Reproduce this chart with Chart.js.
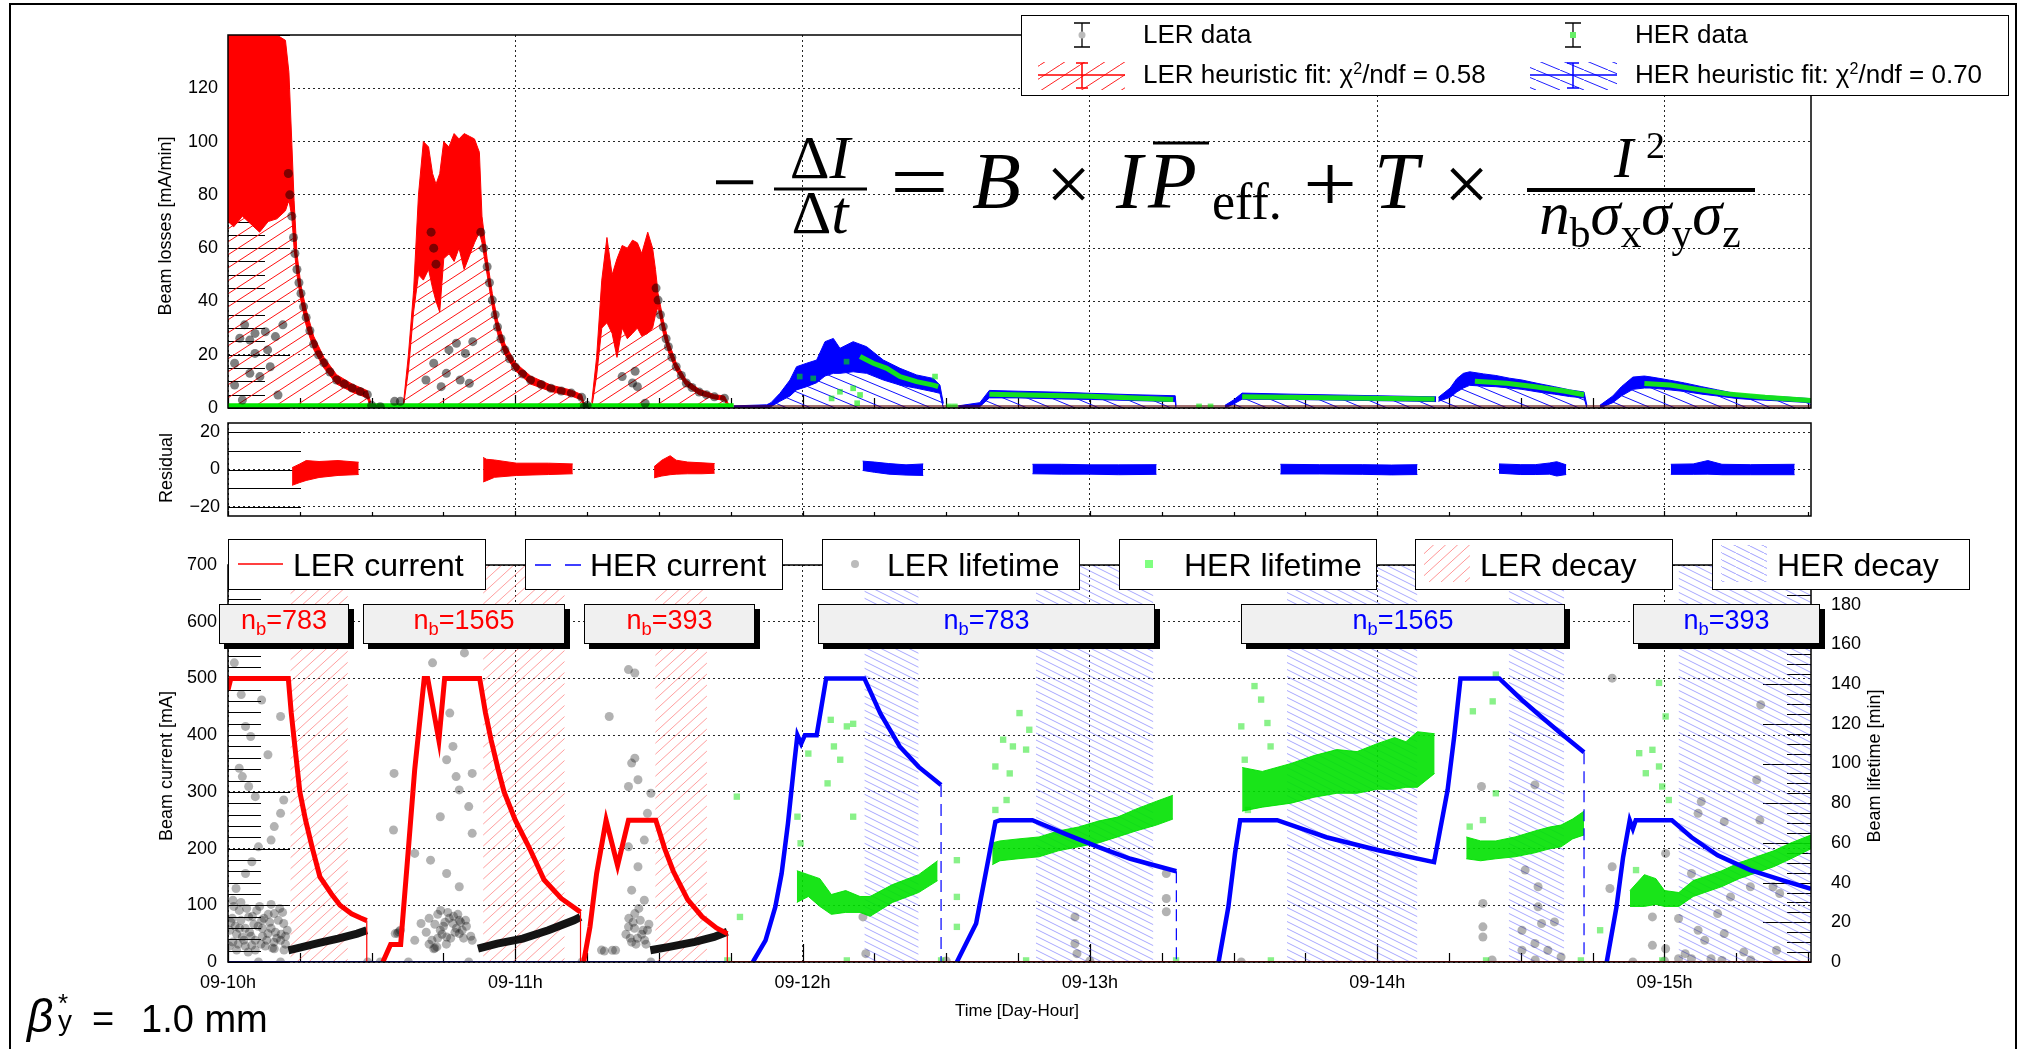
<!DOCTYPE html>
<html>
<head>
<meta charset="utf-8">
<title>Beam losses, residuals and beam currents</title>
<script src="https://cdn.jsdelivr.net/npm/chart.js@4.4.1/dist/chart.umd.min.js"></script>
<style>
  body { margin: 0; width: 2023px; height: 1049px; overflow: hidden; position: relative; background: #fff; font-family: 'Liberation Sans', Arial, sans-serif; }
  canvas { position: absolute; left: 0; }
  .ov { position: absolute; white-space: nowrap; line-height: 1; transform-origin: 0 0; }
  .ov sub { font-size: .68em; vertical-align: -.32em; line-height: 0; }
  .ov sup { font-size: .62em; vertical-align: .55em; line-height: 0; }
  .box { position: absolute; background: #fff; border: 1.5px solid #000; box-sizing: border-box; }
  .nb { position: absolute; background: #f0f0f0; border: 1px solid #000; box-shadow: 5px 5px 0 #000; box-sizing: border-box; }
  #page { position: absolute; left: 9px; top: 3px; width: 2008px; height: 1100px; border: 2px solid #000; box-sizing: border-box; }
</style>
</head>
<body>
<div id="page"></div>
<script>
// ---------- axes ----------
const hours = [10, 11, 12, 13, 14, 15];
const hourLabels = ['09-10h', '09-11h', '09-12h', '09-13h', '09-14h', '09-15h'];
const lossTicks = [0, 20, 40, 60, 80, 100, 120];
const residTicks = [-20, -10, 0, 10, 20];
const currentTicks = [0, 100, 200, 300, 400, 500, 600, 700];
const lifeTicks = [0, 20, 40, 60, 80, 100, 120, 140, 160, 180];

// ---------- top panel: beam losses [mA/min]  rows = [hour, low, high] ----------
const lerFit1 = [[10.00,70,140],[10.02,68,140],[10.05,72,140],[10.08,69,140],[10.11,66,140],[10.14,70,140],[10.17,71,140],[10.20,74,138],[10.212,78,126],[10.222,72,100],[10.23,60,78],[10.24,50,58],[10.254,40,46],[10.272,31,37],[10.298,22,27],[10.334,15,19],[10.378,9,12.5],[10.432,6,9],[10.485,3.8,6.5],[10.497,0,2]];
const lerFit2 = [[10.61,0,1],[10.628,14,20],[10.646,36,44],[10.663,50,80],[10.68,48,100],[10.698,52,98],[10.712,45,88],[10.724,40,84],[10.737,36,88],[10.751,56,100],[10.769,58,98],[10.787,55,103],[10.804,60,101],[10.822,52,103],[10.84,57,102],[10.858,62,101],[10.875,66,96],[10.884,62,72],[10.902,50,56],[10.92,38,43],[10.938,28,33],[10.964,20,24],[11.0,14,17],[11.053,9,12],[11.124,6.2,8.6],[11.195,4.5,6.7],[11.231,3,5],[11.24,0,1.5]];
const lerFit3 = [[11.266,0,2],[11.283,12,19],[11.301,30,48],[11.319,32,64],[11.337,28,50],[11.354,19,56],[11.372,30,61],[11.39,26,60],[11.408,28,63],[11.425,30,62],[11.44,27,58],[11.461,28,66],[11.478,30,60],[11.488,35,52],[11.497,38,43],[11.515,28,33],[11.533,21,25],[11.56,14,17],[11.595,8.3,10.5],[11.64,5,7],[11.693,3.4,5],[11.728,2.9,4.5],[11.742,0,1.5]];
const herFit1 = [[11.76,0,0.8],[11.875,0,1.2],[11.89,0.5,2],[11.921,2.5,5.5],[11.956,4.5,10.5],[11.979,6.8,15.5],[12.014,8,16.8],[12.049,9.5,18],[12.078,12,24.9],[12.107,13,26.1],[12.13,13,22.4],[12.176,13.6,24.9],[12.223,13,23],[12.281,10.5,18],[12.339,8.6,14.9],[12.397,7.4,12.4],[12.455,6.1,11.1],[12.478,5.5,8.6],[12.49,0,1.7]];
const herFit2 = [[12.542,0,0.8],[12.617,0.5,2],[12.65,3.8,6.6],[12.75,3.8,6.3],[12.9,3.4,5.9],[13.006,3.2,5.5],[13.15,2.8,5],[13.297,2.4,4.6],[13.30,0,1]];
const herFit3 = [[13.47,0,1],[13.5,1.5,3],[13.53,3.3,5.6],[13.7,3.2,5.2],[13.9,2.9,4.8],[14.1,2.6,4.4],[14.205,2.4,4.2]];
const herFit4 = [[14.213,2.5,4],[14.254,4,7.5],[14.277,6,11],[14.3,7.5,13],[14.322,8.5,13.6],[14.37,8.2,12.8],[14.413,8,12.2],[14.46,7.5,11.2],[14.504,7,10.5],[14.56,6,9.2],[14.617,5.2,8],[14.67,4.3,6.8],[14.72,3.8,6],[14.73,0,1]];
const herFit5 = [[14.775,0,1],[14.82,2,4.5],[14.85,4.5,8],[14.89,7,11.6],[14.93,7.5,12],[14.956,7.5,11.6],[15.0,7,10.8],[15.07,6.2,9.4],[15.13,5.2,8],[15.185,4.5,6.8],[15.25,3.6,5.4],[15.3,3.2,4.9],[15.41,2.6,4.2],[15.51,2,3.5]];
// measured points [hour, value]
const lerData = [[10.21,88],[10.215,80],[10.222,72],[10.228,64],[10.233,58],[10.24,52],[10.247,47],[10.254,43],[10.263,38],[10.272,34],[10.285,29],[10.298,24],[10.315,20],[10.334,17],[10.355,13.5],[10.378,10.5],[10.405,9],[10.432,7.5],[10.46,6.2],[10.485,5],
  [10.023,16.8],[10.041,26.2],[10.058,31.2],[10.076,25.5],[10.094,28],[10.13,28.6],[10.138,21.8],[10.165,26.8],[10.191,31.2],[10.023,8.6],[10.076,13],[10.111,11.8],[10.147,15.5],[10.174,4.9],[10.094,20.5],[10.05,3],
  [10.5,1],[10.53,0.5],[10.58,2.5],[10.6,2.5],
  [10.689,10.5],[10.742,8],[10.769,21.8],[10.795,24.3],[10.76,13],[10.808,10.5],[10.826,20.5],[10.852,24.9],[10.84,9.3],[10.716,16.8],[10.707,66],[10.716,60],[10.724,54],
  [10.88,66],[10.89,60],[10.902,53],[10.91,47],[10.92,40.5],[10.93,35],[10.938,30.4],[10.95,26],[10.964,21.8],[10.98,18.5],[11.0,15.4],[11.025,12.8],[11.053,10.5],[11.09,8.8],[11.124,7.4],[11.16,6.4],[11.195,5.6],[11.231,4],[11.24,0.5],[11.25,1],
  [11.408,9.4],[11.425,8],[11.417,13.8],[11.452,1.8],[11.372,11.8],
  [11.49,45],[11.497,40.5],[11.505,35],[11.515,30.5],[11.525,26],[11.533,23],[11.545,19],[11.56,15.5],[11.578,12.2],[11.595,9.4],[11.615,7.7],[11.64,6],[11.665,5],[11.693,4.2],[11.728,3.7]];
const herZero = [[10.0,0.7],[11.76,0.7]];
const lerZero = [[11.76,0.4],[15.51,0.4]];
const herData1 = [[12.2,19.3],[12.246,16.8],[12.293,14.9],[12.339,11.8],[12.397,9.9],[12.455,8.6],[12.472,8]];
const herData2 = [[12.65,5.2],[13.0,4.4],[13.29,3.2]];
const herData3 = [[13.53,4.2],[13.9,3.8],[14.2,3.4]];
const herData4 = [[14.34,10],[14.45,9.3],[14.55,8],[14.65,6.4],[14.72,5]];
const herData5 = [[14.93,9.2],[15.02,8.6],[15.12,6.9],[15.22,5.3],[15.35,4],[15.51,2.8]];
const herDataScatter = [[11.99,11.8],[12.037,11.1],[12.153,17.4],[12.101,3.6],[12.13,6.1],[12.176,7.4],[12.2,4.9],[12.19,1.8],[12.461,11.8],[12.51,0.6],[12.53,0.6],[13.38,0.6],[13.42,0.6]];

// ---------- residual panel  rows = [hour, low, high] ----------
const resLer1 = [[10.223,-8.5,1],[10.25,-7,3],[10.272,-5.9,4.8],[10.317,-4.3,4.3],[10.383,-3.2,4.8],[10.455,-2.7,3.9]];
const resLer2 = [[10.888,-6.7,6.5],[10.9,-6,5.5],[10.928,-4.2,5.1],[11.005,-3.2,3.4],[11.116,-2.7,3.4],[11.2,-2.3,3]];
const resLer3 = [[11.483,-4.5,1.5],[11.51,-3.5,5],[11.539,-2.8,7.4],[11.56,-2.5,5],[11.6,-2.3,4],[11.65,-2.3,3.6],[11.694,-2,3.2]];
const resHer1 = [[12.209,-0.5,4.5],[12.25,-1.5,4],[12.3,-2.5,3.2],[12.36,-3,2.5],[12.42,-3.2,3]];
const resHer2 = [[12.8,-2.3,2.8],[12.9,-2.5,2.8],[13.0,-2.5,2.5],[13.1,-2.8,2.5],[13.232,-2.6,2.6]];
const resHer3 = [[13.663,-2.4,2.8],[13.8,-2.4,2.6],[13.95,-2.6,2.6],[14.05,-2.9,2.4],[14.14,-2.7,2.6]];
const resHer4 = [[14.424,-2,3],[14.5,-2.7,2.6],[14.55,-2.7,2.6],[14.6,-2.5,3.5],[14.625,-3.5,4.2],[14.658,-2.7,2.5]];
const resHer5 = [[15.022,-2.6,2.8],[15.1,-2.6,3],[15.151,-2.5,4.8],[15.2,-2.8,2.8],[15.3,-2.8,2.6],[15.453,-2.8,2.8]];

// ---------- bottom panel: currents [mA] and lifetimes [min] ----------
const lerDecayWin = [[10.217,10.417],[10.888,11.172],[11.487,11.667]];
const herDecayWin = [[12.215,12.404],[12.812,13.221],[13.686,14.14],[14.458,14.651],[15.049,15.51]];
const lerCur1 = [[10.0,480],[10.01,500],[10.21,500],[10.22,440],[10.235,370],[10.25,300],[10.27,250],[10.294,200],[10.32,150],[10.36,120],[10.39,100],[10.43,85],[10.46,78],[10.483,73]];
const lerCur2 = [[10.539,0],[10.566,31],[10.601,31],[10.628,200],[10.65,340],[10.683,500],[10.695,500],[10.734,391],[10.754,500],[10.876,500],[10.896,440],[10.916,391],[10.94,340],[10.961,300],[11.0,250],[11.05,200],[11.1,145],[11.16,112],[11.227,88]];
const lerCur3 = [[11.238,0],[11.26,62],[11.283,156],[11.316,250],[11.356,170],[11.394,250],[11.489,250],[11.52,200],[11.55,160],[11.6,110],[11.65,80],[11.7,60],[11.738,50]];
const herCur1 = [[11.827,0],[11.871,38],[11.905,97],[11.927,156],[11.949,244],[11.971,350],[11.982,400],[11.995,385],[12.008,400],[12.049,400],[12.082,500],[12.215,500],[12.271,438],[12.338,380],[12.404,344],[12.482,312]];
const herCur2 = [[12.537,0],[12.604,68],[12.648,185],[12.671,247],[12.687,250],[12.8,250],[12.914,226],[13.028,203],[13.141,182],[13.301,160]];
const herCur3 = [[13.448,0],[13.482,97],[13.505,191],[13.523,250],[13.652,250],[13.823,220],[14.004,197],[14.198,176],[14.245,303],[14.268,397],[14.29,500],[14.425,500],[14.504,462],[14.572,432],[14.64,403],[14.72,370]];
const herCur5 = [[14.799,0],[14.833,97],[14.856,185],[14.879,250],[14.89,235],[14.9,250],[15.026,250],[15.094,220],[15.185,188],[15.299,162],[15.412,144],[15.51,129]];
const herCurZero = [[10.0,0],[11.827,0]];
const lerCurZero = [[11.738,0],[15.51,0]];
const lerLife1 = [[10.21,5.9],[10.25,7.2],[10.317,9.6],[10.383,11.8],[10.45,14.3],[10.483,16]];
const lerLife2 = [[10.87,6.7],[10.937,9.3],[11.026,11.8],[11.115,16],[11.204,21],[11.227,22.7]];
const lerLife3 = [[11.47,5.9],[11.536,7.6],[11.625,10.1],[11.692,12.6],[11.738,15.2]];
const lerLifeScatter = [[10.022,150.7],[10.046,134.7],[10.061,118.7],[10.079,113.6],[10.039,97.6],[10.05,93.4],[10.072,88.4],[10.095,83.3],[10.139,104.4],[10.117,132],[10.183,123.7],[10.194,81.6],[10.183,74.9],[10.161,68.2],[10.15,61.4],[10.106,58],[10.083,50.5],[10.061,44.6],[10.028,37],[10.017,31.1],[10.039,26],[10.072,22.7],[10.117,21],[10.161,24.4],[10.194,19.4],[10.006,16],[10.05,12.6],[10.095,10.9],[10.139,14.3],[10.183,10.9],[10.206,16],[10.017,10.1],[10.083,8.4],[10.161,6.7],[10.106,0],[10.183,0],
  [10.01,20],[10.03,14],[10.06,17],[10.09,19],[10.12,13],[10.15,17],[10.17,12],[10.2,9],[10.03,6],[10.07,5],[10.13,8],[10.19,25],[10.11,28],[10.045,30],[10.15,29],
  [10.005,8],[10.015,22],[10.025,18],[10.035,9],[10.045,21],[10.055,11],[10.065,27],[10.075,15],[10.085,23],[10.095,6],[10.105,18],[10.115,9],[10.125,22],[10.135,11],[10.145,20],[10.155,7],[10.165,15],[10.175,21],[10.185,14],[10.195,6],[10.02,28],[10.06,8],[10.1,26],[10.14,24],[10.18,27],[10.04,17],[10.08,13],[10.12,17],[10.16,10],[10.2,13],
  [10.486,0],[10.53,0],[10.578,95],[10.576,66.5],[10.582,14.3],[10.594,15.2],[10.712,150.7],[10.823,155.7],[10.772,125.4],[10.783,108.6],[10.794,93.4],[10.761,101.9],[10.805,86.7],[10.85,95],[10.838,78.3],[10.739,73.2],[10.65,54.7],[10.705,51.3],[10.761,44.6],[10.805,37.9],[10.85,64.8],[10.672,19.4],[10.739,16],[10.783,19.4],[10.827,21],[10.716,6.7],[10.727,7.6],[10.761,12.6],[10.805,14.3],[10.85,10.9],[10.65,10.9],[10.838,0],[10.628,0],
  [10.75,18],[10.77,22],[10.79,15],[10.81,20],[10.73,12],[10.76,9],[10.8,24],[10.74,26],[10.82,12],
  [10.69,15],[10.7,22],[10.71,11],[10.72,19],[10.73,24],[10.745,14],[10.755,20],[10.765,25],[10.775,12],[10.785,23],[10.795,17],[10.805,21],[10.815,16],[10.83,18],[10.845,13],[10.7,9],[10.72,7],[10.59,14.5],[10.6,16],
  [11.232,0],[11.327,123.7],[11.394,147.3],[11.416,145.6],[11.405,100.2],[11.416,102.7],[11.394,88.4],[11.427,91.8],[11.472,85],[11.46,74.9],[11.449,61.4],[11.394,58],[11.427,48],[11.405,36.2],[11.449,31.1],[11.416,24.4],[11.394,17.7],[11.46,16],[11.338,5.9],[11.349,5.9],[11.472,0],
  [11.4,12],[11.42,9],[11.44,14],[11.41,20],[11.43,27],[11.45,11],
  [11.385,14],[11.395,22],[11.405,10],[11.415,17],[11.425,12],[11.435,21],[11.445,16],[11.455,9],[11.465,19],[11.3,6],[11.31,5.5],
  [12.21,22.7],[12.22,4.2],[12.948,9.3],[12.955,4.2],[12.948,22.7],[13.266,44.6],[13.266,32],[13.266,25.3],[13.527,0],[14.363,88.4],[14.549,89.2],[14.515,46.3],[14.368,29.5],[14.56,37.9],[14.56,27.8],[14.572,19.4],[14.617,20.2],[14.368,17.7],[14.368,12.6],[14.504,16],[14.504,5.9],[14.549,9.3],[14.594,5.9],[14.64,2.5],[14.818,143],[14.818,48],[14.81,37],[15.335,129.6],[15.321,91.8],[15.332,71.5],[15.004,54.7],[15.128,80.8],[15.117,74.9],[15.208,70.7],[15.185,24.4],[15.094,44.6],[15.23,32.8],[15.299,37.9],[15.378,37.9],[15.401,34.5],[14.958,22.7],[15.049,21.9],[15.117,16],[15.14,10.9],[15.208,14.3],[14.958,8.4],[15.004,6.7],[15.072,4.2],[15.162,1.7],[15.276,5],[15.39,5.9],[14.89,0],[15.049,1.7],[15.094,1.7],
  [12.5,0.5],[13.0,0.5],[14.4,1],[14.55,1],[15.0,0.5],[15.2,0.8],[15.3,1]];
const herLife1 = [[11.98,30,46],[12.02,33,44],[12.06,28,42],[12.1,24,34],[12.15,25,36],[12.2,25,33],[12.235,23,33],[12.313,30,39],[12.404,35,44],[12.47,41,51]];
const herLife2 = [[12.66,49,60],[12.687,51,61],[12.75,52,62],[12.823,53,63],[12.89,56,66],[12.96,58,68],[13.03,60,71],[13.096,63,73],[13.16,66,77],[13.232,69,81],[13.289,72,84]];
const herLife3 = [[13.53,76,98],[13.6,78,96],[13.7,80,100],[13.78,83,104],[13.86,85,107],[13.93,85,106],[14.0,87,110],[14.06,87,113],[14.1,88,111],[14.14,88,116],[14.2,95,115]];
const herLife4 = [[14.31,52,63],[14.36,51,61],[14.413,52,61],[14.48,53,63],[14.549,55,66],[14.6,57,68],[14.64,58,69],[14.68,62,72],[14.72,64,76]];
const herLife5 = [[14.88,28,36],[14.93,28,44],[14.97,29,42],[15.0,28,36],[15.05,28,35],[15.1,33,41],[15.14,35,43],[15.2,38,46],[15.26,42,50],[15.32,45,53],[15.38,48,56],[15.44,52,60],[15.51,57,64]];
const herLifeScatter = [[11.771,83.3],[11.782,22.7],[11.738,0.8],[12.02,105],[12.109,108.6],[12.131,101.9],[12.087,90],[11.982,73.2],[12.176,73.2],[11.993,59.8],[12.537,51.3],[12.537,32.8],[12.537,17.7],[12.154,0.8],[12.176,120],[12.098,122],[12.154,118.7],[12.482,0.8],[12.671,98.5],[12.671,76.6],[12.698,112],[12.732,108.6],[12.755,125.4],[12.721,95],[12.71,81.6],[12.778,107],[12.789,117],[13.3,0.8],[12.778,0.8],[13.573,139],[13.618,120.4],[13.527,118.7],[13.596,132.2],[13.629,108.6],[13.55,76.6],[13.539,101.9],[13.63,0.8],[14.322,68.2],[14.368,71.5],[14.333,126.3],[14.413,144.8],[14.402,131.3],[14.413,85],[14.379,0.8],[14.709,0.8],[14.958,106.9],[14.981,98.5],[14.935,95.1],[14.992,88.4],[15.004,123.7],[14.981,140.6],[14.901,46.3],[14.776,16],[14.912,105.2],[15.015,81.6],[14.992,0.8]];

// ---------- helpers ----------
Chart.defaults.font.family = "'Liberation Sans', Arial, sans-serif";
Chart.defaults.color = '#000';

function hatch(color, w, h, dir) {
  const c = document.createElement('canvas');
  c.width = w; c.height = h;
  const g = c.getContext('2d');
  g.strokeStyle = color; g.lineWidth = 1;
  g.beginPath();
  [[0, 0], [-w, 0], [w, 0], [0, -h], [0, h]].forEach(([ox, oy]) => {
    if (dir > 0) { g.moveTo(ox, oy + h); g.lineTo(ox + w, oy); }
    else { g.moveTo(ox, oy); g.lineTo(ox + w, oy + h); }
  });
  g.stroke();
  return g.createPattern(c, 'repeat');
}

const P = rows => rows.map(r => ({x: r[0], y: r[1]}));
const L = (rows, axis, color, width, extra) => Object.assign({data: P(rows), yAxisID: axis, borderColor: color, borderWidth: width, pointRadius: 0, fill: false}, extra || {});
const D = (rows, axis, color, r, style) => ({data: P(rows), yAxisID: axis, showLine: false, pointRadius: r, pointStyle: style || 'circle', pointBackgroundColor: color, pointBorderWidth: 0, borderColor: color});
const B = (rows, axis, line, fillCol, under) => [
  {data: rows.map(r => ({x: r[0], y: r[1]})), yAxisID: axis, borderColor: line, borderWidth: 1, pointRadius: 0, fill: under ? 'origin' : false, backgroundColor: under || 'transparent'},
  {data: rows.map(r => ({x: r[0], y: r[2]})), yAxisID: axis, borderColor: line, borderWidth: 1, pointRadius: 0, fill: '-1', backgroundColor: fillCol}
];
const drop = rows => { const e = rows[rows.length - 1]; return [[e[0], e[1]], [e[0], 0]]; };
const win = (w, pat) => ({data: [{x: w[0], y: 700}, {x: w[1], y: 700}], yAxisID: 'y', borderWidth: 0, borderColor: 'transparent', pointRadius: 0, fill: 'origin', backgroundColor: pat});
// first pushed = painted first (behind)
const paint = sets => { sets.forEach((d, i) => { d.order = sets.length - i; }); return sets; };

// ticks drawn inside the frame + frame, like the original
const rootFrame = {
  id: 'rootFrame',
  beforeDatasetsDraw(chart, args, o) {
    const {ctx, chartArea: a, scales} = chart;
    ctx.save();
    ctx.strokeStyle = '#000'; ctx.lineWidth = 1.2;
    ctx.beginPath();
    const xs = scales.x;
    for (let k = 0; 10 + k * 0.25 <= xs.max; k++) {
      const t = 10 + k * 0.25, px = Math.round(xs.getPixelForValue(t)) + 0.5;
      const len = k % 4 === 0 ? o.xMajor : o.xMinor;
      ctx.moveTo(px, a.bottom); ctx.lineTo(px, a.bottom - len);
    }
    (o.yAxes || []).forEach(ax => {
      const s = scales[ax.id];
      for (let v = Math.ceil(s.min / ax.step) * ax.step; v <= s.max + 1e-9; v += ax.step) {
        const py = Math.round(s.getPixelForValue(v)) + 0.5;
        const len = Math.abs(v % ax.major) < 1e-6 ? ax.majLen : ax.minLen;
        if (ax.side === 'left') { ctx.moveTo(a.left, py); ctx.lineTo(a.left + len, py); }
        else { ctx.moveTo(a.right, py); ctx.lineTo(a.right - len, py); }
      }
    });
    ctx.stroke();
    ctx.restore();
  },
  afterDatasetsDraw(chart) {
    const {ctx, chartArea: a} = chart;
    ctx.save();
    ctx.strokeStyle = '#000'; ctx.lineWidth = 1.5;
    ctx.strokeRect(a.left, a.top, a.right - a.left, a.bottom - a.top);
    ctx.restore();
  }
};

function xScale(show) {
  return {
    type: 'linear', min: 10, max: 15.51,
    afterBuildTicks: s => { s.ticks = hours.map(v => ({value: v})); },
    ticks: {display: show, padding: 10, autoSkip: false, maxRotation: 0, font: {size: 18}, callback: (v, i) => hourLabels[i]},
    grid: {color: 'rgba(0,0,0,0.85)', lineWidth: 1, drawTicks: false},
    border: {display: false, dash: [2, 3]},
    afterFit: s => { s.height = show ? 40 : 0; s.paddingLeft = 0; s.paddingRight = 0; }
  };
}
function yScale(min, max, list, pad, pos, grid) {
  return {
    type: 'linear', position: pos || 'left', min, max,
    afterBuildTicks: s => { s.ticks = list.map(v => ({value: v})); },
    ticks: {padding: pad, font: {size: 18}, callback: v => String(v).replace('-', '\u2212')},
    grid: {display: grid !== false, color: 'rgba(0,0,0,0.85)', lineWidth: 1, drawTicks: false},
    border: {display: false, dash: [2, 3]},
    afterFit: s => { s.width = 60; s.paddingTop = 0; s.paddingBottom = 0; }
  };
}
function mk(top, height) {
  const c = document.createElement('canvas');
  c.width = 2023; c.height = height; c.style.top = top + 'px';
  document.body.appendChild(c);
  return c;
}
const base = (padding, scales, frame) => ({
  animation: false, responsive: false, devicePixelRatio: 1,
  layout: {padding},
  plugins: {legend: {display: false}, tooltip: {enabled: false}, rootFrame: frame},
  scales
});

// ---------- top chart ----------
const redHatch = hatch('#ff1010', 20, 13, 1);
const blueHatch = hatch('#1010ff', 24, 10, -1);
const topSets = paint([
  ...B(lerFit1, 'y', '#ff0000', '#ff0000', redHatch),
  ...B(lerFit2, 'y', '#ff0000', '#ff0000', redHatch),
  ...B(lerFit3, 'y', '#ff0000', '#ff0000', redHatch),
  ...[herFit1, herFit2, herFit3, herFit4, herFit5].flatMap(r => B(r, 'y', '#0000ff', '#0000ff', blueHatch)),
  L(herZero, 'y', '#00e600', 6),
  L(lerZero, 'y', 'rgba(90,0,0,0.55)', 4),
  D(lerData, 'y', 'rgba(0,0,0,0.5)', 4.5),
  ...[herData1, herData2, herData3, herData4, herData5].map(r => L(r, 'y', 'rgba(20,235,20,0.95)', 5)),
  D(herDataScatter, 'y', 'rgba(0,235,0,0.6)', 4, 'rect')
]);
new Chart(mk(0, 430), {
  type: 'line',
  data: {datasets: topSets},
  options: base({left: 168, right: 212, top: 35, bottom: 22},
    {x: xScale(false), y: yScale(0, 140, lossTicks, 10)},
    {xMajor: 13, xMinor: 10, yAxes: [{id: 'y', step: 5, major: 20, minLen: 37, majLen: 62, side: 'left'}]}),
  plugins: [rootFrame]
});

// ---------- residual chart ----------
const resSets = paint([
  ...[resLer1, resLer2, resLer3].flatMap(r => B(r, 'y', '#ff0000', '#ff0000')),
  ...[resHer1, resHer2, resHer3, resHer4, resHer5].flatMap(r => B(r, 'y', '#0000ff', '#0000ff'))
]);
new Chart(mk(410, 130), {
  type: 'line',
  data: {datasets: resSets},
  options: base({left: 168, right: 212, top: 13, bottom: 24},
    {x: xScale(false), y: yScale(-25, 25, residTicks, 8)},
    {xMajor: 5, xMinor: 4, yAxes: [{id: 'y', step: 10, major: 10, minLen: 73, majLen: 73, side: 'left'}]}),
  plugins: [rootFrame]
});

// ---------- bottom chart ----------
const redLight = hatch('rgba(255,80,80,0.55)', 12, 11, 1);
const blueLight = hatch('rgba(80,80,255,0.5)', 14, 7, -1);
const botSets = paint([
  ...lerDecayWin.map(w => win(w, redLight)),
  ...herDecayWin.map(w => win(w, blueLight)),
  D(lerLifeScatter, 'y2', 'rgba(0,0,0,0.3)', 4.5),
  D(herLifeScatter, 'y2', 'rgba(40,230,40,0.55)', 4.5, 'rect'),
  ...[herLife1, herLife2, herLife3, herLife4, herLife5].flatMap(r => B(r, 'y2', 'rgba(0,225,0,0.9)', 'rgba(0,225,0,0.9)')),
  ...[lerLife1, lerLife2, lerLife3].map(r => L(r, 'y2', 'rgba(0,0,0,0.92)', 8)),
  L(herCurZero, 'y', '#0000ff', 2),
  L(lerCurZero, 'y', '#ff0000', 2),
  ...[lerCur1, lerCur2, lerCur3].map(r => L(r, 'y', '#ff0000', 5)),
  ...[lerCur1, lerCur2, lerCur3].map(r => L(drop(r), 'y', '#ff0000', 1.2)),
  ...[herCur1, herCur2, herCur3, herCur5].map(r => L(r, 'y', '#0000ff', 4.5)),
  ...[herCur1, herCur2, herCur3].map(r => L(drop(r), 'y', '#0000ff', 1.2, {borderDash: [12, 7]}))
]);
new Chart(mk(530, 519), {
  type: 'line',
  data: {datasets: botSets},
  options: base({left: 168, right: 152, top: 35, bottom: 47},
    {x: xScale(true), y: yScale(0, 700, currentTicks, 11), y2: yScale(0, 200, lifeTicks, 20, 'right', false)},
    {xMajor: 18, xMinor: 9, yAxes: [
      {id: 'y', step: 20, major: 100, minLen: 33, majLen: 62, side: 'left'},
      {id: 'y2', step: 5, major: 20, minLen: 24, majLen: 48, side: 'right'}]}),
  plugins: [rootFrame]
});

// ---------- overlays: boxes, symbols, text ----------
function box(cls, x, y, w, h) {
  const d = document.createElement('div');
  d.className = cls;
  Object.assign(d.style, {left: x + 'px', top: y + 'px', width: w + 'px', height: h + 'px'});
  document.body.appendChild(d);
}
function put(html, x, baseLine, fs, o) {
  o = o || {};
  const d = document.createElement('div');
  d.className = 'ov';
  d.innerHTML = html;
  const serif = !!o.serif;
  d.style.fontFamily = serif ? "'Liberation Serif', 'Times New Roman', serif" : "'Liberation Sans', Arial, sans-serif";
  d.style.fontSize = fs + 'px';
  d.style.left = x + 'px';
  d.style.top = (baseLine - (serif ? 0.8375 : 0.8465) * fs) + 'px';
  d.style.color = o.color || '#000';
  if (o.italic) d.style.fontStyle = 'italic';
  const tf = [];
  if (o.align === 'center') tf.push('translateX(-50%)');
  if (o.sx) tf.push('scaleX(' + o.sx + ')');
  if (tf.length) d.style.transform = tf.join(' ');
  document.body.appendChild(d);
}
function vtitle(text, cx, cy, fs) {
  const d = document.createElement('div');
  d.className = 'ov';
  d.textContent = text;
  Object.assign(d.style, {left: cx + 'px', top: cy + 'px', fontSize: fs + 'px', transformOrigin: '50% 50%', transform: 'translate(-50%,-50%) rotate(-90deg)'});
  document.body.appendChild(d);
}

// top legend
box('box', 1021, 15, 988, 81);
// bottom legend boxes
const legendNames = ['LER current', 'HER current', 'LER lifetime', 'HER lifetime', 'LER decay', 'HER decay'];
const legendX = [228, 525, 822, 1119, 1415, 1712];
legendX.forEach(x => box('box', x, 539, 258, 51));
// bunch-number boxes
const nbBoxes = [[219, 349, '783', 'red'], [363, 565, '1565', 'red'], [584, 755, '393', 'red'], [818, 1155, '783', 'blue'], [1241, 1565, '1565', 'blue'], [1633, 1820, '393', 'blue']];
nbBoxes.forEach(b => box('nb', b[0], 604, b[1] - b[0], 40));

const svg = [
  '<defs>',
  '<pattern id="hr" width="20" height="13" patternUnits="userSpaceOnUse"><path d="M0 13L20 0" stroke="#ff2020" stroke-width="1"/></pattern>',
  '<pattern id="hb" width="24" height="10" patternUnits="userSpaceOnUse"><path d="M0 0L24 10" stroke="#2020ff" stroke-width="1"/></pattern>',
  '<pattern id="lr" width="12" height="11" patternUnits="userSpaceOnUse"><path d="M0 11L12 0" stroke="rgba(255,80,80,0.6)" stroke-width="1"/></pattern>',
  '<pattern id="lb" width="14" height="7" patternUnits="userSpaceOnUse"><path d="M0 0L14 7" stroke="rgba(80,80,255,0.55)" stroke-width="1"/></pattern>',
  '</defs>',
  // LER data / HER data error bars
  '<g stroke="#000" stroke-width="1.3"><path d="M1082 23V47M1074 23H1090M1074 47H1090"/><path d="M1573 23V47M1565 23H1581M1565 47H1581"/></g>',
  '<circle cx="1082" cy="35" r="3.5" fill="#bbb"/><rect x="1570" y="32" width="6" height="6" fill="#66ee66"/>',
  // fit symbols
  '<rect x="1038" y="62" width="87" height="28" fill="url(#hr)"/><g stroke="#f00" stroke-width="1.5"><path d="M1038 75H1125M1082 63V88M1076 63H1088M1076 88H1088"/></g>',
  '<rect x="1530" y="62" width="87" height="28" fill="url(#hb)"/><g stroke="#00f" stroke-width="1.5"><path d="M1530 75H1617M1573 63V88M1567 63H1579M1567 88H1579"/></g>',
  // bottom legend symbols
  '<path d="M238 564H283" stroke="#f00" stroke-width="1.5"/>',
  '<path d="M535 565H551M565 565H581" stroke="#00f" stroke-width="1.5"/>',
  '<circle cx="855" cy="564" r="4" fill="#bbb"/>',
  '<rect x="1145" y="560" width="8" height="8" fill="#80ff80"/>',
  '<rect x="1424" y="545" width="46" height="37" fill="url(#lr)"/>',
  '<rect x="1721" y="545" width="46" height="37" fill="url(#lb)"/>',
  // formula bars
  '<path d="M774 189H867" stroke="#000" stroke-width="3"/>',
  '<path d="M1527 190H1755" stroke="#000" stroke-width="4"/>',
  '<path d="M1153 143H1209" stroke="#000" stroke-width="3"/>'
].join('');
const sv = document.createElementNS('http://www.w3.org/2000/svg', 'svg');
sv.setAttribute('width', 2023); sv.setAttribute('height', 1049);
sv.style.position = 'absolute'; sv.style.left = '0'; sv.style.top = '0';
sv.innerHTML = svg;
document.body.appendChild(sv);

// legend text
put('LER data', 1143, 43, 26);
put('LER heuristic fit: \u03c7<sup>2</sup>/ndf = 0.58', 1143, 83, 26);
put('HER data', 1635, 43, 26);
put('HER heuristic fit: \u03c7<sup>2</sup>/ndf = 0.70', 1635, 83, 26);
legendNames.forEach((n, i) => put(n, legendX[i] + 65, 576, 32));
nbBoxes.forEach(b => put('n<sub>b</sub>=' + b[2], (b[0] + b[1]) / 2, 630, 27, {color: b[3], align: 'center'}));

// axis titles
vtitle('Beam losses [mA/min]', 165, 226, 18);
vtitle('Residual', 166, 468, 18);
vtitle('Beam current [mA]', 166, 766, 18);
vtitle('Beam lifetime [min]', 1874, 766, 18);
put('Time [Day-Hour]', 1017, 1016, 17, {align: 'center'});

// beta label
put('\u03b2', 27, 1032, 46, {italic: true});
put('*', 58, 1012, 26);
put('y', 58, 1031, 28);
put('=', 92, 1032, 38);
put('1.0 mm', 141, 1032, 38);

// formula
put('\u2212', 712, 209, 80, {serif: true});
put('\u0394<i>I</i>', 820, 178, 62, {serif: true, align: 'center'});
put('\u0394<i>t</i>', 820, 233, 62, {serif: true, align: 'center'});
put('=', 890, 209, 80, {serif: true, sx: 1.3});
put('<i>B</i>', 972, 208, 80, {serif: true});
put('\u00d7', 1046, 211, 80, {serif: true});
put('<i>I</i>', 1116, 208, 80, {serif: true});
put('<i>P</i>', 1148, 208, 80, {serif: true});
put('eff.', 1212, 220, 52, {serif: true});
put('+', 1303, 211, 80, {serif: true, sx: 1.2});
put('<i>T</i>', 1374, 208, 80, {serif: true});
put('\u00d7', 1444, 211, 80, {serif: true});
put('<i>I</i>', 1614, 178, 58, {serif: true});
put('2', 1646, 158, 38, {serif: true});
put('<i>n</i><sub>b</sub><i>\u03c3</i><sub>x</sub><i>\u03c3</i><sub>y</sub><i>\u03c3</i><sub>z</sub>', 1640, 234, 61, {serif: true, align: 'center'});
</script>
</body>
</html>
